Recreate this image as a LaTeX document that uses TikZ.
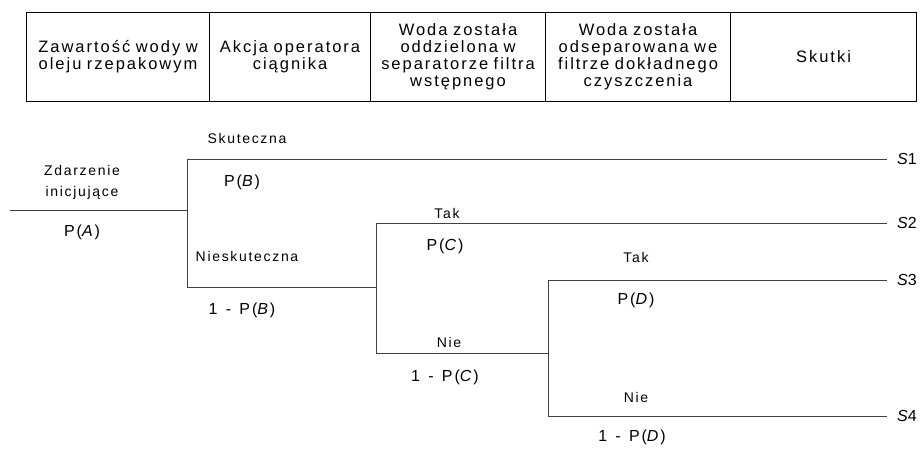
\documentclass[tikz,border=0pt]{standalone}
\usepackage{fontspec}
\setmainfont{Liberation Sans}[LetterSpace=12, WordSpace=1.3]
\newfontfamily\symfont{Liberation Sans}
\usetikzlibrary{matrix}

\begin{document}
\begin{tikzpicture}[x=1pt, y=-1pt,
	gal/.style={draw=black!75, line width=0.9pt},
	opis/.style={font=\fontsize{14}{21}\selectfont, inner sep=0pt, align=center},
	prawd/.style={font=\fontsize{16}{18}\selectfont, inner sep=0pt},
	skutek/.style={font=\symfont\fontsize{16}{18}\selectfont, anchor=west, inner xsep=10pt, inner ysep=0pt}]
	\useasboundingbox (0,0) rectangle (924,450);
	% naglowek tabeli
	\matrix(tab)[matrix of nodes, anchor=north west, line width=1.2pt,
		nodes={draw, line width=1.2pt, anchor=center, minimum height=89pt, align=center, inner xsep=1pt, font=\fontsize{16.5}{17}\selectfont},
		column sep=-1.2pt,
		column 1/.style={nodes={text width=181pt}},
		column 2/.style={nodes={text width=159pt}},
		column 3/.style={nodes={text width=173pt}},
		column 4/.style={nodes={text width=183pt}},
		column 5/.style={nodes={text width=184pt}}] at (22,8){
		Zawartość wody w\break oleju rzepakowym	&Akcja operatora\break ciągnika	&Woda została\break oddzielona w\break separatorze filtra\break wstępnego	&Woda została\break odseparowana we\break filtrze dokładnego\break czyszczenia	&Skutki	\\
	};
	% wezly drzewa
	\coordinate (pocz) at (10,210);
	\coordinate (wB) at (187,210);
	\coordinate (wBt) at (187,159);
	\coordinate (wBn) at (187,287);
	\coordinate (wC) at (376,287);
	\coordinate (wCt) at (376,223);
	\coordinate (wCn) at (376,353);
	\coordinate (wD) at (548,353);
	\coordinate (wDt) at (548,280);
	\coordinate (wDn) at (548,416);
	\node[skutek] (S1) at (887,159) {\textit{S}1};
	\node[skutek] (S2) at (887,223) {\textit{S}2};
	\node[skutek] (S3) at (887,280) {\textit{S}3};
	\node[skutek] (S4) at (887,416) {\textit{S}4};
	\draw[gal] (pocz) -- (wB);
	\draw[gal] (S1) -- (wBt) -- (wBn) -- (wC);
	\draw[gal] (S2) -- (wCt) -- (wCn) -- (wD);
	\draw[gal] (S3) -- (wDt) -- (wDn) -- (S4);
	% opisy galezi
	\node[opis] (zdarz) at (82,182) {Zdarzenie\\inicjujące};
	\node[prawd] (pA) at (82,232) {P(\textit{A})};
	\node[opis] (skut) at (247,138) {Skuteczna};
	\node[prawd] (pB) at (242,182) {P(\textit{B})};
	\node[opis] (nieskut) at (247,256) {Nieskuteczna};
	\node[prawd] (npB) at (242,310) {1 - P(\textit{B})};
	\node[opis] (takC) at (447,213) {Tak};
	\node[prawd] (pC) at (445,246) {P(\textit{C})};
	\node[opis] (nieC) at (449,342) {Nie};
	\node[prawd] (npC) at (445,377) {1 - P(\textit{C})};
	\node[opis] (takD) at (636,257) {Tak};
	\node[prawd] (pD) at (636,300) {P(\textit{D})};
	\node[opis] (nieD) at (636,397) {Nie};
	\node[prawd] (npD) at (632,437) {1 - P(\textit{D})};
\end{tikzpicture}
\end{document}
